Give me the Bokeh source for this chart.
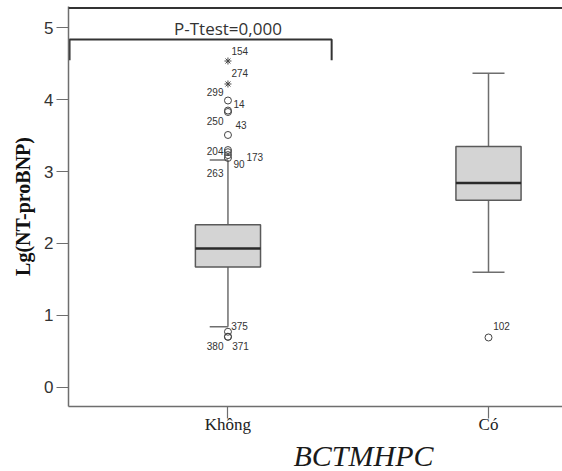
from bokeh.plotting import figure
from bokeh.models import Range1d, FixedTicker, ColumnDataSource, Span, Label, Title
from bokeh.embed import file_html
from bokeh.resources import INLINE
from bokeh.core.properties import value

# ---------------- data ----------------
categories = ["Không", "Có"]
cat_pos = [1, 2]
q1 = [1.67, 2.60]
medians = [1.93, 2.84]
q3 = [2.26, 3.35]
whisker_low = [0.84, 1.60]
whisker_high = [3.16, 4.37]

outlier_group = [1, 1, 1, 1, 1, 1, 1, 1, 1, 1, 1, 1, 1, 2]
outlier_value = [4.54, 4.22, 3.99, 3.85, 3.83, 3.51, 3.30, 3.27, 3.23, 3.19,
                 0.77, 0.70, 0.70, 0.69]
outlier_id = ["154", "274", "299", "14", "250", "43", "204", "173", "90", "263",
              "375", "380", "371", "102"]
outlier_extreme = [True, True, False, False, False, False, False, False, False,
                   False, False, False, False, False]

y_ticks = [0, 1, 2, 3, 4, 5]
y_title = "Lg(NT-proBNP)"
x_title = "BCTMHPC"
test_text = "P-Ttest=0,000"

# ---------------- styling / layout ----------------
label_dx = [3.5, 3.5, -4.5, 5.5, -4.5, 7.5, -4.5, 18.5, 5.5, -4.5, 3.2, -4.5, 4.2, 4.7]
label_dy = [-9.6, -11, -8.5, -7, 9, -9.8, 1, 4.6, 9, 15, -6, 9.7, 9.7, -11.8]
label_align = ["left" if d > 0 else "right" for d in label_dx]

X0, X1 = 0.388, 2.284
Y0, Y1 = -0.271, 5.299
BOX_W = 0.25
cap_left = [0.07, 0.0614]
cap_right = [0.0, 0.0614]

AX = "#6e6e6e"
DARK = "#333333"

p = figure(width=562, height=471, output_backend="svg", toolbar_location=None,
           x_range=Range1d(X0, X1), y_range=Range1d(Y0, Y1),
           min_border_left=68, min_border_right=0, min_border_top=6,
           min_border_bottom=40)
p.outline_line_color = None
p.xgrid.visible = False
p.ygrid.visible = False
p.background_fill_color = "white"
p.border_fill_color = "white"

# axes
p.yaxis.ticker = FixedTicker(ticks=y_ticks)
p.yaxis.axis_label = y_title
p.yaxis.axis_label_text_font = "Liberation Serif"
p.yaxis.axis_label_text_font_style = "bold"
p.yaxis.axis_label_text_font_size = "20px"
p.yaxis.axis_label_text_color = "#111111"
p.yaxis.axis_label_standoff = 7
p.yaxis.major_label_text_font = "Liberation Sans"
p.yaxis.major_label_text_font_size = "17px"
p.yaxis.major_label_text_color = DARK
p.yaxis.major_label_standoff = 3
p.yaxis.major_tick_out = 12
p.yaxis.major_tick_in = 0
p.yaxis.minor_tick_line_color = None
p.yaxis.axis_line_color = AX
p.yaxis.axis_line_width = 1.5
p.yaxis.major_tick_line_color = AX
p.yaxis.major_tick_line_width = 1.2

p.xaxis.ticker = FixedTicker(ticks=cat_pos)
p.xaxis.major_label_overrides = {c: t for c, t in zip(cat_pos, categories)}
p.xaxis.major_label_text_font = "Liberation Serif"
p.xaxis.major_label_text_font_size = "17px"
p.xaxis.major_label_text_color = "#222222"
p.xaxis.major_label_standoff = -4
p.xaxis.major_tick_out = 12
p.xaxis.major_tick_in = 0
p.xaxis.minor_tick_line_color = None
p.xaxis.axis_line_color = AX
p.xaxis.axis_line_width = 1.5
p.xaxis.major_tick_line_color = AX
p.xaxis.major_tick_line_width = 1.2

# x title (placed below the axis, shifted right as in the source)
p.add_layout(Title(text=x_title, align="left", offset=225, standoff=0,
                   text_font="Liberation Serif", text_font_style="italic",
                   text_font_size="30px", text_color="#1a1a1a"), "below")

# top frame line
p.add_layout(Span(location=5.278, dimension="width", line_color=DARK, line_width=2))

# whiskers
p.segment(x0=cat_pos, x1=cat_pos, y0=q3, y1=whisker_high, line_color=AX, line_width=1.5)
p.segment(x0=cat_pos, x1=cat_pos, y0=whisker_low, y1=q1, line_color=AX, line_width=1.5)
cx0 = [c - l for c, l in zip(cat_pos, cap_left)]
cx1 = [c + r for c, r in zip(cat_pos, cap_right)]
p.segment(x0=cx0, x1=cx1, y0=whisker_high, y1=whisker_high, line_color=AX, line_width=1.5)
p.segment(x0=cx0, x1=cx1, y0=whisker_low, y1=whisker_low, line_color=AX, line_width=1.5)

# boxes
p.vbar(x=cat_pos, width=BOX_W, bottom=q1, top=q3, fill_color="#d4d4d4",
       line_color="#5a5a5a", line_width=1.5)
p.segment(x0=[c - BOX_W / 2 for c in cat_pos], x1=[c + BOX_W / 2 for c in cat_pos],
          y0=medians, y1=medians, line_color="#2a2a2a", line_width=2.5)

# outliers
src = ColumnDataSource(dict(x=outlier_group, y=outlier_value, label=outlier_id,
                            dx=label_dx, dy=label_dy, align=label_align))
circ = ColumnDataSource(dict(x=[g for g, e in zip(outlier_group, outlier_extreme) if not e],
                             y=[v for v, e in zip(outlier_value, outlier_extreme) if not e]))
star = ColumnDataSource(dict(x=[g for g, e in zip(outlier_group, outlier_extreme) if e],
                             y=[v for v, e in zip(outlier_value, outlier_extreme) if e]))
p.scatter(x="x", y="y", source=circ, marker="circle", size=7, fill_color=None,
          line_color="#444444", line_width=1)
p.scatter(x="x", y="y", source=star, marker="asterisk", size=7,
          line_color="#444444", line_width=1)
p.text(x="x", y="y", text="label", source=src, x_offset="dx", y_offset="dy",
       text_align="align", text_baseline="middle", text_font=value("Liberation Sans"),
       text_font_size="10px", text_color=DARK)

# bracket + test annotation
p.line(x=[0.392, 0.392, 1.398, 1.398], y=[4.55, 4.84, 4.84, 4.55], line_color=DARK,
       line_width=2)
p.add_layout(Label(x=1, y=4.99, text=test_text, text_align="center",
                   text_baseline="alphabetic", text_font="Open Sans",
                   text_font_size="17px", text_color=DARK))

open("out.html", "w").write(file_html(p, INLINE))
